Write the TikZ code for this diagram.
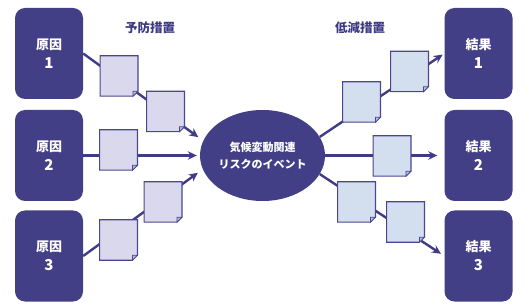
\documentclass[tikz,border=0pt]{standalone}
\usepackage{fontspec}
\setmainfont{Noto Sans CJK JP}
\usetikzlibrary{shapes.geometric,arrows.meta,backgrounds}
\definecolor{boxc}{HTML}{433F86}
\definecolor{docl}{HTML}{D9D8EC}
\definecolor{docr}{HTML}{D3DEEE}
\definecolor{docb}{HTML}{4A4790}
\definecolor{labc}{HTML}{3C3A82}
\definecolor{linec}{HTML}{3F3B84}
\newcommand{\bignum}[1]{{\fontsize{15}{19}\selectfont #1}}
\begin{document}
\begin{tikzpicture}[x=1pt,y=-1pt,
  endbox/.style={rectangle, rounded corners=10pt, fill=boxc, minimum width=68pt,
    minimum height=91pt, inner sep=0pt, text=white,
    font=\fontsize{13}{19}\selectfont\bfseries, align=center},
  docnode/.style={minimum width=37.5pt, minimum height=40pt, inner sep=0pt},
  event/.style={ellipse, fill=boxc, minimum width=125pt, minimum height=91pt,
    inner sep=0pt, text=white, font=\fontsize{11}{17}\selectfont\bfseries, align=center},
  head/.style={text=labc, font=\fontsize{12.5}{14}\selectfont\bfseries},
  conn/.style={draw=linec, line width=2.4pt},
  arr/.style={conn, -{Stealth[length=9pt,width=8.5pt]}},
  docshape/.style={draw=docb, line width=1.1pt, line join=miter}
]
\useasboundingbox (0,0) rectangle (530,307);

% cause and result boxes
\node[endbox] (c1) at (49,53.5) {原因\\\bignum{1}};
\node[endbox] (c2) at (49,155.5) {原因\\\bignum{2}};
\node[endbox] (c3) at (49,256) {原因\\\bignum{3}};
\node[endbox] (r1) at (478.5,53.5) {結果\\\bignum{1}};
\node[endbox] (r2) at (478.5,155.5) {結果\\\bignum{2}};
\node[endbox] (r3) at (478.5,256) {結果\\\bignum{3}};

% central event
\node[event] (ev) at (262.5,155.5) {気候変動関連\\リスクのイベント};

% headings
\node[head] (h1) at (150,28) {予防措置};
\node[head] (h2) at (360,28) {低減措置};

% document placeholders
\node[docnode] (dA) at (119,76) {};
\node[docnode] (dB) at (165.5,111.5) {};
\node[docnode] (dC) at (118.5,150) {};
\node[docnode] (dD) at (118.5,240) {};
\node[docnode] (dE) at (163,202) {};
\node[docnode] (dF) at (361.5,102) {};
\node[docnode] (dG) at (409.5,71.5) {};
\node[docnode] (dH) at (392,156) {};
\node[docnode] (dI) at (356.5,202) {};
\node[docnode] (dJ) at (405.5,222) {};

\foreach \n/\c in {dA/docl,dB/docl,dC/docl,dD/docl,dE/docl,dF/docr,dG/docr,dH/docr,dI/docr,dJ/docr}{
  \path[docshape, fill=\c] (\n.north west) -- (\n.north east)
    -- ([yshift=5pt]\n.south east) -- ([xshift=-5pt]\n.south east)
    -- (\n.south west) -- cycle;
  \path[docshape, line width=0.8pt, fill=\c!80!docb] ([yshift=5pt]\n.south east)
    -- ([xshift=-5pt,yshift=5pt]\n.south east) -- ([xshift=-5pt]\n.south east) -- cycle;
}

% connectors
\begin{pgfonlayer}{background}
\draw[arr, shorten >=6pt] (c1.east) -- (ev.166);
\draw[arr, shorten >=3pt] (c2.east) -- (ev.west);
\draw[arr, shorten >=6pt] (c3.east) -- (ev.193);
\draw[arr, shorten >=2pt] (ev.18) -- (r1.west);
\draw[arr, shorten >=7pt] (ev.east) -- (r2.west);
\draw[arr, shorten >=4pt] (ev.-18) -- (r3.west);
\end{pgfonlayer}
\end{tikzpicture}
\end{document}
